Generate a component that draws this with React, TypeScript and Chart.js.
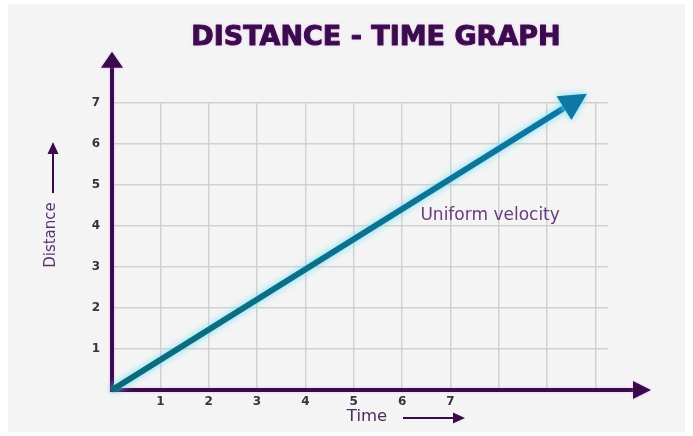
import React, { useEffect, useRef } from "react";
import { Chart, registerables } from "chart.js";

Chart.register(...registerables);

// ---- data ----
const TIME_VALUES = [0, 9.35];
const DISTANCE_VALUES = [0, 6.87];
const X_TICK_LABELS = ["1", "2", "3", "4", "5", "6", "7"];
const Y_TICK_LABELS = ["1", "2", "3", "4", "5", "6", "7"];
const X_MAX = 10.26;
const Y_MAX = 7;
const TITLE = "DISTANCE - TIME GRAPH";
const X_TITLE = "Time";
const Y_TITLE = "Distance";
const ANNOTATION = "Uniform velocity";

const AXIS_COLOR = "#3a0b4c";
const TICK_FONT = { family: "'DejaVu Sans', sans-serif", size: 12, weight: "bold" as const };

const decorPlugin = {
  id: "decor",
  beforeDraw(chart: any) {
    const ctx = chart.ctx;
    ctx.save();
    ctx.fillStyle = "#ffffff";
    ctx.fillRect(0, 0, chart.width, chart.height);
    ctx.fillStyle = "#f4f4f4";
    ctx.fillRect(8, 4, chart.width - 16, chart.height - 8);
    ctx.restore();
  },
  beforeDatasetsDraw(chart: any) {
    const ctx = chart.ctx;
    const xs = chart.scales.x;
    const ys = chart.scales.y;
    const area = chart.chartArea;
    const x0 = xs.getPixelForValue(0);
    const y0 = ys.getPixelForValue(0);
    ctx.save();
    ctx.shadowColor = "rgba(235,140,245,0.55)";
    ctx.shadowBlur = 3;
    ctx.strokeStyle = AXIS_COLOR;
    ctx.fillStyle = AXIS_COLOR;
    ctx.lineWidth = 4;
    // y axis
    const yTip = area.top - 51;
    ctx.beginPath();
    ctx.moveTo(x0, y0 + 2);
    ctx.lineTo(x0, yTip + 14);
    ctx.stroke();
    ctx.beginPath();
    ctx.moveTo(x0, yTip);
    ctx.lineTo(x0 - 11, yTip + 16);
    ctx.lineTo(x0 + 11, yTip + 16);
    ctx.closePath();
    ctx.fill();
    // x axis
    const xTip = area.right + 43;
    ctx.beginPath();
    ctx.moveTo(x0 - 2, y0);
    ctx.lineTo(xTip - 16, y0);
    ctx.stroke();
    ctx.beginPath();
    ctx.moveTo(xTip, y0);
    ctx.lineTo(xTip - 18, y0 - 9);
    ctx.lineTo(xTip - 18, y0 + 9);
    ctx.closePath();
    ctx.fill();
    ctx.restore();
  },
  beforeDatasetDraw(chart: any) {
    const ctx = chart.ctx;
    ctx.save();
    ctx.shadowColor = "rgba(100,225,250,1)";
    ctx.shadowBlur = 7;
  },
  afterDatasetDraw(chart: any, args: any) {
    const ctx = chart.ctx;
    const pts = args.meta.data;
    const a = pts[pts.length - 2];
    const b = pts[pts.length - 1];
    const ang = Math.atan2(b.y - a.y, b.x - a.x);
    const len = 27;
    const half = 14;
    const tx = b.x + Math.cos(ang) * len;
    const ty = b.y + Math.sin(ang) * len;
    const px = -Math.sin(ang);
    const py = Math.cos(ang);
    ctx.fillStyle = "#0e77a6";
    ctx.beginPath();
    ctx.moveTo(tx, ty);
    ctx.lineTo(b.x + px * half, b.y + py * half);
    ctx.lineTo(b.x - px * half, b.y - py * half);
    ctx.closePath();
    ctx.fill();
    ctx.restore();
  },
  afterDraw(chart: any) {
    const ctx = chart.ctx;
    const xs = chart.scales.x;
    const ys = chart.scales.y;
    ctx.save();
    // title
    ctx.font = "bold 27px 'DejaVu Sans', sans-serif";
    ctx.textAlign = "center";
    ctx.textBaseline = "middle";
    ctx.shadowColor = "rgba(235,140,245,0.6)";
    ctx.shadowBlur = 3;
    ctx.strokeStyle = "#3c0b4e";
    ctx.lineWidth = 1;
    ctx.lineJoin = "round";
    ctx.strokeText(TITLE, 376, 38);
    ctx.shadowBlur = 0;
    ctx.shadowColor = "transparent";
    ctx.fillStyle = "#3c0b4e";
    ctx.fillText(TITLE, 376, 38);
    // annotation
    ctx.fillStyle = "#6a3a7e";
    ctx.font = "17px 'DejaVu Sans', sans-serif";
    ctx.textAlign = "left";
    ctx.fillText(ANNOTATION, xs.getPixelForValue(6.38), ys.getPixelForValue(4.24));
    // x title + arrow
    const ay = ys.getPixelForValue(0);
    ctx.fillStyle = "#4e2a5e";
    ctx.font = "16.5px 'DejaVu Sans', sans-serif";
    ctx.textAlign = "center";
    ctx.fillText(X_TITLE, 367, ay + 27);
    ctx.strokeStyle = "#3a0b4c";
    ctx.fillStyle = "#3a0b4c";
    ctx.lineWidth = 2;
    ctx.beginPath();
    ctx.moveTo(403, ay + 28);
    ctx.lineTo(456, ay + 28);
    ctx.stroke();
    ctx.beginPath();
    ctx.moveTo(465, ay + 28);
    ctx.lineTo(453, ay + 22.5);
    ctx.lineTo(453, ay + 33.5);
    ctx.closePath();
    ctx.fill();
    // y title + arrow
    ctx.save();
    ctx.translate(51, 235);
    ctx.rotate(-Math.PI / 2);
    ctx.fillStyle = "#5a3070";
    ctx.font = "15px 'DejaVu Sans', sans-serif";
    ctx.textAlign = "center";
    ctx.textBaseline = "middle";
    ctx.fillText(Y_TITLE, 0, 0);
    ctx.restore();
    ctx.beginPath();
    ctx.moveTo(53, 193);
    ctx.lineTo(53, 152);
    ctx.stroke();
    ctx.beginPath();
    ctx.moveTo(53, 142);
    ctx.lineTo(47.5, 154);
    ctx.lineTo(58.5, 154);
    ctx.closePath();
    ctx.fill();
    ctx.restore();
  },
};

export default function App() {
  const ref = useRef<HTMLCanvasElement | null>(null);
  useEffect(() => {
    if (!ref.current) return;
    const chart = new Chart(ref.current, {
      type: "line",
      data: {
        datasets: [
          {
            data: TIME_VALUES.map((t, i) => ({ x: t, y: DISTANCE_VALUES[i] })),
            borderColor: (c: any) => {
              const area = c.chart.chartArea;
              if (!area) return "#0f7390";
              const g = c.chart.ctx.createLinearGradient(area.left, area.bottom, area.right, area.top);
              g.addColorStop(0, "#0b6a76");
              g.addColorStop(1, "#0e77a6");
              return g;
            },
            borderWidth: 6,
            pointRadius: 0,
            borderCapStyle: "butt",
            clip: false,
            tension: 0,
          } as any,
        ],
      },
      options: {
        responsive: false,
        animation: false,
        layout: { padding: { left: 0, top: 102.7, right: 85, bottom: 0 } },
        plugins: { legend: { display: false }, tooltip: { enabled: false }, title: { display: false } },
        scales: {
          x: {
            type: "linear",
            min: 0,
            max: X_MAX,
            afterFit: (s: any) => {
              s.height = 46;
            },
            border: { display: false },
            grid: { color: "rgba(205,205,205,0.9)", lineWidth: 1.5, drawTicks: false },
            ticks: {
              stepSize: 1,
              includeBounds: false,
              autoSkip: false,
              maxRotation: 0,
              padding: 5,
              color: "#3b2f45",
              font: TICK_FONT,
              callback: (v: any) => (X_TICK_LABELS.includes(String(v)) ? String(v) : ""),
            },
          },
          y: {
            type: "linear",
            min: 0,
            max: Y_MAX,
            afterFit: (s: any) => {
              s.width = 112;
            },
            border: { display: false },
            grid: { color: "rgba(205,205,205,0.9)", lineWidth: 1.5, drawTicks: false },
            ticks: {
              stepSize: 1,
              autoSkip: false,
              padding: 12,
              color: "#3b2f45",
              font: TICK_FONT,
              callback: (v: any) => (Y_TICK_LABELS.includes(String(v)) ? String(v) : ""),
            },
          },
        },
      } as any,
      plugins: [decorPlugin],
    });
    return () => chart.destroy();
  }, []);
  return (
    <div style={{ position: "fixed", left: 0, top: 0, width: 693, height: 436 }}>
      <canvas ref={ref} width={693} height={436} style={{ display: "block" }} />
    </div>
  );
}
